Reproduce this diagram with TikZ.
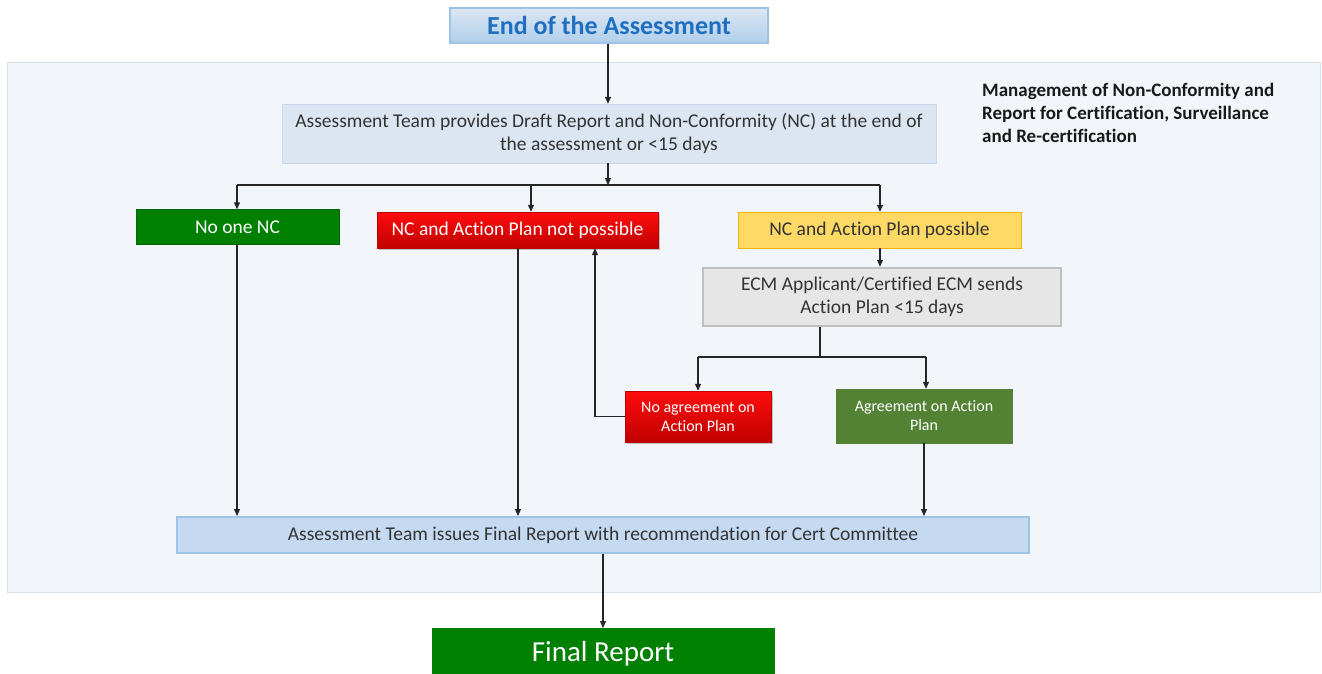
\documentclass[tikz,border=0pt]{standalone}
\usepackage{fontspec}
\setmainfont{Carlito}[Ligatures=NoCommon]
\usetikzlibrary{arrows.meta,shadows}
\definecolor{panelfill}{HTML}{F2F6FA}
\definecolor{panelline}{HTML}{D6E0EA}
\definecolor{titleblue}{HTML}{1F6FC0}
\definecolor{draftfill}{HTML}{DCE6F2}
\definecolor{draftline}{HTML}{C9D8EA}
\definecolor{okgreen}{HTML}{008000}
\definecolor{olive}{HTML}{548235}
\definecolor{gold}{HTML}{FFD966}
\definecolor{goldline}{HTML}{F2B400}
\definecolor{ecmfill}{HTML}{E6E6E6}
\definecolor{ecmline}{HTML}{BFBFBF}
\definecolor{finalfill}{HTML}{C5D9F1}
\definecolor{finalline}{HTML}{9DC3E6}
\definecolor{txt}{HTML}{333333}
\tikzset{
  base/.style={draw, rectangle, inner sep=0pt, align=center},
  mainfont/.style={font=\fontsize{19.5}{23}\selectfont},
  smallfont/.style={font=\fontsize{16}{19}\selectfont},
  titlebox/.style={base, draw=finalline, line width=1.2pt, top color=draftfill, bottom color=finalline!80,
     text=titleblue, font=\fontsize{26}{30}\selectfont\bfseries},
  draftbox/.style={base, draw=draftline, fill=draftfill, text=txt, mainfont},
  greenbox/.style={base, draw=okgreen!80!black, fill=okgreen, text=white, mainfont},
  redbox/.style={base, draw=red!75!black, top color=red!95!white, bottom color=red!75!black, text=white,
     drop shadow={shadow xshift=2pt, shadow yshift=-2pt, fill=black!45, opacity=0.5}},
  goldbox/.style={base, draw=goldline, fill=gold, text=txt, mainfont},
  ecmbox/.style={base, draw=ecmline, line width=2.5pt, fill=ecmfill, text=txt, mainfont},
  olivebox/.style={base, draw=olive, fill=olive, text=white, smallfont},
  issuebox/.style={base, draw=finalline, line width=2pt, fill=finalfill, text=txt, mainfont},
  reportbox/.style={base, draw=okgreen, fill=okgreen, text=white, font=\fontsize{29}{33}\selectfont},
  conn/.style={draw=black!85, line width=1.2pt},
  arr/.style={conn, -{Triangle[length=7pt,width=6pt]}},
}
\begin{document}
\begin{tikzpicture}[x=1pt,y=-1pt]
\useasboundingbox (0,0) rectangle (1322,673);
\fill[white] (0,0) rectangle (1322,673);
% panel
\node[draw=panelline, fill=panelfill, line width=1pt, minimum width=1313, minimum height=530, inner sep=0pt] (panel) at (663.5,327) {};
\node[anchor=north west, align=left, font=\fontsize{19}{23}\selectfont\bfseries, text=black!90, inner sep=0pt] (mgmt) at (982,83)
  {Management of Non-Conformity and\\Report for Certification, Surveillance\\and Re-certification};
% nodes
\node[titlebox, minimum width=318, minimum height=35] (end) at (609,25.5) {End of the Assessment};
\node[draftbox, minimum width=654, minimum height=59] (draft) at (609,133.5)
  {Assessment Team provides Draft Report and Non-Conformity (NC) at the end of\\the assessment or <15 days};
\node[greenbox, minimum width=203, minimum height=35] (none) at (237.5,227) {No one NC};
\node[redbox, minimum width=281, minimum height=36, mainfont] (notpos) at (517.5,230) {NC and Action Plan not possible};
\node[goldbox, minimum width=283, minimum height=36] (pos) at (879.5,230) {NC and Action Plan possible};
\node[ecmbox, minimum width=358, minimum height=58] (ecm) at (882,297)
  {ECM Applicant/Certified ECM sends\\Action Plan <15 days};
\node[redbox, minimum width=146, minimum height=51, smallfont] (noagr) at (698,416.5)
  {No agreement on\\Action Plan};
\node[olivebox, minimum width=176, minimum height=54] (agr) at (924,416)
  {Agreement on Action\\Plan};
\node[issuebox, minimum width=852, minimum height=36] (issue) at (603,535)
  {Assessment Team issues Final Report with recommendation for Cert Committee};
\node[reportbox, minimum width=342, minimum height=52, anchor=north] (final) at (603,628) {\raisebox{2pt}{Final Report}};
% junctions
\coordinate (j1) at (608,185);
\coordinate (j2) at (820,357);
% connectors
\draw[arr] (end.south -| 608,0) -- (draft.north -| 608,0);
\draw[arr] (draft.south -| 608,0) -- (j1);
\draw[conn] (237,185) -- (880,185);
\draw[arr] (237,185) -- (none.north -| 237,0);
\draw[arr] (531,185) -- (notpos.north -| 531,0);
\draw[arr] (880,185) -- (pos.north -| 880,0);
\draw[arr] (pos.south -| 880,0) -- (ecm.north -| 880,0);
\draw[conn] (ecm.south -| 820,0) -- (j2);
\draw[conn] (698,357) -- (926,357);
\draw[arr] (698,357) -- (noagr.north -| 698,0);
\draw[arr] (926,357) -- (agr.north -| 926,0);
\draw[arr] (noagr.west) -- (noagr.west -| 595,0) -- (notpos.south -| 595,0);
\draw[arr] (none.south -| 237,0) -- (issue.north -| 237,0);
\draw[arr] (notpos.south -| 518,0) -- (issue.north -| 518,0);
\draw[arr] (agr.south -| 924,0) -- (issue.north -| 924,0);
\draw[arr] (issue.south -| 603,0) -- (final.north);
\end{tikzpicture}
\end{document}
